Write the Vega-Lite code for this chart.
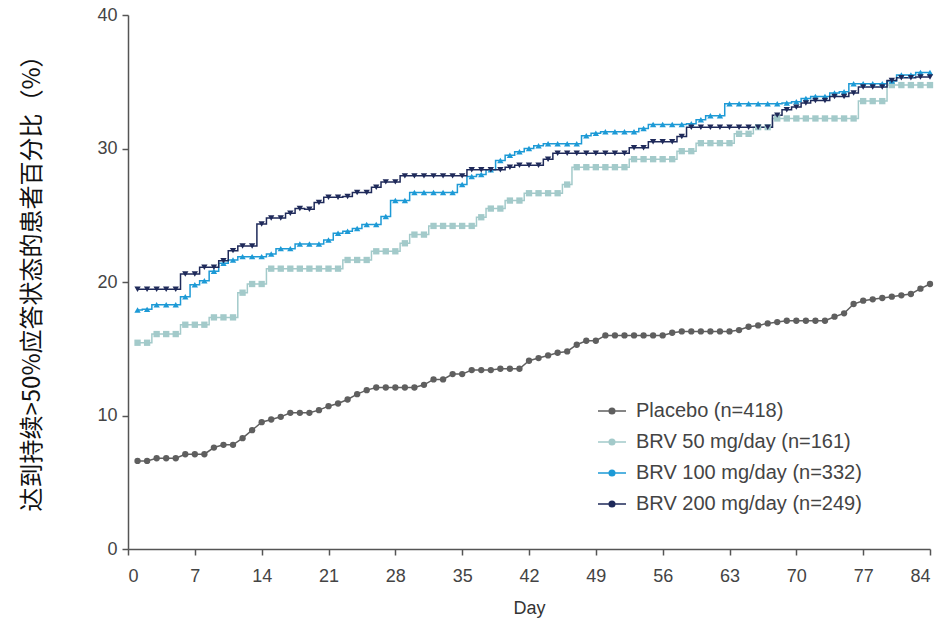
{
  "$schema": "https://vega.github.io/schema/vega-lite/v6.json",
  "autosize": "none",
  "width": 802,
  "height": 534,
  "padding": {"left": 128, "top": 15, "right": 13, "bottom": 75},
  "background": "white",
  "config": {
    "view": {"stroke": null},
    "axis": {
      "domainColor": "#555",
      "domainWidth": 1.5,
      "tickColor": "#555",
      "tickWidth": 1.5,
      "tickSize": 6,
      "labelFont": "Liberation Sans",
      "labelFontSize": 18,
      "labelColor": "#444",
      "grid": false
    }
  },
  "data": {
    "values": [
      {"d":1,"P":6.6,"A":15.45,"B":17.9,"C":19.45},
      {"d":2,"P":6.6,"A":15.45,"B":17.95,"C":19.45},
      {"d":3,"P":6.8,"A":16.1,"B":18.3,"C":19.45},
      {"d":4,"P":6.8,"A":16.1,"B":18.3,"C":19.45},
      {"d":5,"P":6.8,"A":16.1,"B":18.3,"C":19.45},
      {"d":6,"P":7.1,"A":16.8,"B":18.9,"C":20.6},
      {"d":7,"P":7.1,"A":16.8,"B":19.8,"C":20.6},
      {"d":8,"P":7.1,"A":16.8,"B":20.1,"C":21.1},
      {"d":9,"P":7.6,"A":17.35,"B":20.8,"C":21.1},
      {"d":10,"P":7.8,"A":17.35,"B":21.4,"C":21.6},
      {"d":11,"P":7.8,"A":17.35,"B":21.65,"C":22.35},
      {"d":12,"P":8.3,"A":19.2,"B":21.9,"C":22.7},
      {"d":13,"P":8.9,"A":19.85,"B":21.9,"C":22.7},
      {"d":14,"P":9.5,"A":19.85,"B":21.9,"C":24.35},
      {"d":15,"P":9.7,"A":21.0,"B":22.1,"C":24.8},
      {"d":16,"P":9.9,"A":21.0,"B":22.5,"C":24.8},
      {"d":17,"P":10.2,"A":21.0,"B":22.5,"C":25.15},
      {"d":18,"P":10.2,"A":21.0,"B":22.85,"C":25.5},
      {"d":19,"P":10.2,"A":21.0,"B":22.85,"C":25.45},
      {"d":20,"P":10.4,"A":21.0,"B":22.85,"C":25.95},
      {"d":21,"P":10.7,"A":21.0,"B":23.15,"C":26.35},
      {"d":22,"P":10.9,"A":21.0,"B":23.65,"C":26.35},
      {"d":23,"P":11.2,"A":21.65,"B":23.8,"C":26.4},
      {"d":24,"P":11.6,"A":21.65,"B":24.0,"C":26.7},
      {"d":25,"P":11.9,"A":21.65,"B":24.3,"C":26.7},
      {"d":26,"P":12.1,"A":22.3,"B":24.3,"C":27.1},
      {"d":27,"P":12.1,"A":22.3,"B":24.9,"C":27.5},
      {"d":28,"P":12.1,"A":22.3,"B":26.1,"C":27.5},
      {"d":29,"P":12.1,"A":22.9,"B":26.1,"C":27.95},
      {"d":30,"P":12.1,"A":23.55,"B":26.7,"C":27.95},
      {"d":31,"P":12.3,"A":23.55,"B":26.7,"C":27.95},
      {"d":32,"P":12.7,"A":24.2,"B":26.7,"C":27.95},
      {"d":33,"P":12.7,"A":24.2,"B":26.7,"C":27.95},
      {"d":34,"P":13.1,"A":24.2,"B":26.7,"C":27.95},
      {"d":35,"P":13.1,"A":24.2,"B":27.3,"C":27.95},
      {"d":36,"P":13.4,"A":24.2,"B":27.9,"C":28.4},
      {"d":37,"P":13.4,"A":24.85,"B":28.05,"C":28.4},
      {"d":38,"P":13.4,"A":25.5,"B":28.4,"C":28.4},
      {"d":39,"P":13.5,"A":25.5,"B":29.1,"C":28.4},
      {"d":40,"P":13.5,"A":26.1,"B":29.5,"C":28.6},
      {"d":41,"P":13.5,"A":26.1,"B":29.75,"C":28.75},
      {"d":42,"P":14.1,"A":26.65,"B":30.0,"C":28.75},
      {"d":43,"P":14.3,"A":26.65,"B":30.2,"C":28.75},
      {"d":44,"P":14.5,"A":26.65,"B":30.35,"C":29.2},
      {"d":45,"P":14.7,"A":26.65,"B":30.35,"C":29.65},
      {"d":46,"P":14.8,"A":27.3,"B":30.35,"C":29.65},
      {"d":47,"P":15.3,"A":28.6,"B":30.35,"C":29.65},
      {"d":48,"P":15.6,"A":28.6,"B":30.95,"C":29.65},
      {"d":49,"P":15.6,"A":28.6,"B":31.15,"C":29.65},
      {"d":50,"P":16.0,"A":28.6,"B":31.25,"C":29.65},
      {"d":51,"P":16.0,"A":28.6,"B":31.25,"C":29.65},
      {"d":52,"P":16.0,"A":28.6,"B":31.25,"C":29.65},
      {"d":53,"P":16.0,"A":29.2,"B":31.25,"C":30.05},
      {"d":54,"P":16.0,"A":29.2,"B":31.5,"C":30.05},
      {"d":55,"P":16.0,"A":29.2,"B":31.8,"C":30.5},
      {"d":56,"P":16.0,"A":29.2,"B":31.8,"C":30.5},
      {"d":57,"P":16.2,"A":29.2,"B":31.8,"C":30.5},
      {"d":58,"P":16.3,"A":29.8,"B":31.8,"C":30.9},
      {"d":59,"P":16.3,"A":29.8,"B":31.85,"C":31.6},
      {"d":60,"P":16.3,"A":30.4,"B":32.15,"C":31.6},
      {"d":61,"P":16.3,"A":30.4,"B":32.45,"C":31.6},
      {"d":62,"P":16.3,"A":30.4,"B":32.45,"C":31.6},
      {"d":63,"P":16.3,"A":30.4,"B":33.35,"C":31.6},
      {"d":64,"P":16.4,"A":31.1,"B":33.35,"C":31.6},
      {"d":65,"P":16.65,"A":31.1,"B":33.35,"C":31.6},
      {"d":66,"P":16.75,"A":31.6,"B":33.35,"C":31.6},
      {"d":67,"P":16.9,"A":31.6,"B":33.35,"C":31.6},
      {"d":68,"P":17.0,"A":32.25,"B":33.35,"C":32.5},
      {"d":69,"P":17.1,"A":32.25,"B":33.4,"C":32.9},
      {"d":70,"P":17.1,"A":32.25,"B":33.5,"C":33.1},
      {"d":71,"P":17.1,"A":32.25,"B":33.75,"C":33.4},
      {"d":72,"P":17.1,"A":32.25,"B":33.9,"C":33.6},
      {"d":73,"P":17.1,"A":32.25,"B":33.9,"C":33.6},
      {"d":74,"P":17.4,"A":32.25,"B":34.15,"C":33.9},
      {"d":75,"P":17.65,"A":32.25,"B":34.25,"C":33.9},
      {"d":76,"P":18.35,"A":32.25,"B":34.85,"C":34.15},
      {"d":77,"P":18.6,"A":33.55,"B":34.85,"C":34.6},
      {"d":78,"P":18.7,"A":33.55,"B":34.85,"C":34.6},
      {"d":79,"P":18.8,"A":33.55,"B":34.85,"C":34.6},
      {"d":80,"P":18.9,"A":34.75,"B":35.05,"C":35.1},
      {"d":81,"P":19.0,"A":34.75,"B":35.5,"C":35.3},
      {"d":82,"P":19.1,"A":34.75,"B":35.5,"C":35.3},
      {"d":83,"P":19.5,"A":34.75,"B":35.7,"C":35.35},
      {"d":84,"P":19.85,"A":34.75,"B":35.7,"C":35.35}
    ]
  },
  "transform": [
    {"fold": ["P", "A", "B", "C"], "as": ["g", "v"]}
  ],
  "encoding": {
    "x": {
      "field": "d",
      "type": "quantitative",
      "scale": {"domain": [0, 84], "nice": false},
      "axis": {
        "values": [0, 7, 14, 21, 28, 35, 42, 49, 56, 63, 70, 77, 84],
        "title": "Day",
        "titleFont": "Liberation Sans",
        "titleFontSize": 18,
        "titleFontWeight": "normal",
        "titleColor": "#333",
        "labelPadding": 12,
        "titlePadding": 14
      }
    },
    "y": {
      "field": "v",
      "type": "quantitative",
      "scale": {"domain": [0, 40], "nice": false},
      "axis": {
        "values": [0, 10, 20, 30, 40],
        "title": "达到持续>50%应答状态的患者百分比（%）",
        "titleFont": "Noto Sans CJK SC",
        "titleFontSize": 24,
        "titleFontWeight": "normal",
        "titleColor": "#111",
        "titleAngle": -90,
        "titleAlign": "center",
        "titleBaseline": "middle",
        "titleX": -96,
        "titleY": 262,
        "labelPadding": 5
      }
    }
  },
  "resolve": {"legend": {"color": "independent"}},
  "layer": [
    {
      "transform": [{"filter": "datum.g != 'P'"}],
      "mark": {"type": "line", "interpolate": "step", "strokeWidth": 1.5},
      "encoding": {
        "color": {
          "field": "g",
          "type": "nominal",
          "scale": {
            "domain": ["P", "A", "B", "C"],
            "range": ["#5f5f5f", "#a3caca", "#1d9ad6", "#1f2a5a"]
          },
          "legend": {
            "orient": "none",
            "legendX": 469,
            "legendY": 381,
            "title": null,
            "values": ["P", "A", "B", "C"],
            "labelExpr": "datum.value == 'P' ? 'Placebo (n=418)' : datum.value == 'A' ? 'BRV 50 mg/day (n=161)' : datum.value == 'B' ? 'BRV 100 mg/day (n=332)' : 'BRV 200 mg/day (n=249)'",
            "labelFont": "Liberation Sans",
            "labelFontSize": 20,
            "labelColor": "#444",
            "labelLimit": 400,
            "labelOffset": 9,
            "rowPadding": 6,
            "symbolType": "M-1,0L-0.2,0M0.2,0L1,0M-0.2,0A0.2,0.2,0,1,0,0.2,0A0.2,0.2,0,1,0,-0.2,0Z",
            "symbolSize": 784,
            "symbolStrokeWidth": 1.5,
            "encode": {
              "symbols": {
                "update": {
                  "fill": {"scale": "color", "field": "value"},
                  "stroke": {"scale": "color", "field": "value"},
                  "strokeWidth": {"value": 1.5}
                }
              }
            }
          }
        }
      }
    },
    {
      "transform": [{"filter": "datum.g == 'P'"}],
      "mark": {"type": "line", "interpolate": "linear", "strokeWidth": 1.5},
      "encoding": {
        "color": {"field": "g", "type": "nominal", "legend": null}
      }
    },
    {
      "mark": {"type": "point", "filled": true, "size": 40, "opacity": 1},
      "encoding": {
        "color": {"field": "g", "type": "nominal", "legend": null},
        "shape": {
          "field": "g",
          "type": "nominal",
          "scale": {
            "domain": ["P", "A", "B", "C"],
            "range": ["circle", "square", "triangle-up", "triangle-down"]
          },
          "legend": null
        }
      }
    }
  ]
}
